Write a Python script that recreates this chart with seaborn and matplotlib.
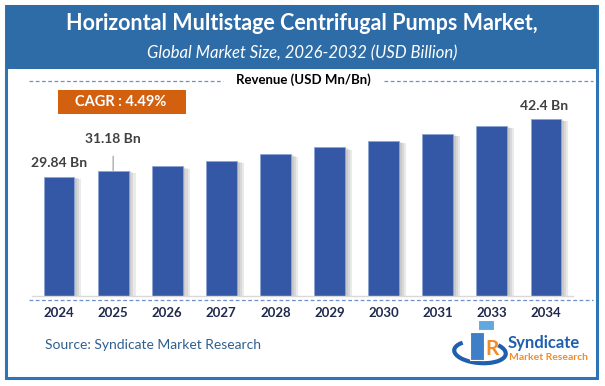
import matplotlib
matplotlib.use("Agg")
import matplotlib.pyplot as plt
import matplotlib.patheffects as pe
from matplotlib.patches import Rectangle, Arc
from matplotlib.lines import Line2D
import pandas as pd
import seaborn as sns

sns.set_style("white")
plt.rcParams['font.family'] = ['Lato', 'DejaVu Sans']

# data
years = ["2024", "2025", "2026", "2027", "2028", "2029", "2030", "2031", "2033", "2034"]
revenue = [29.84, 31.18, 32.1, 33.3, 34.7, 36.2, 37.6, 39.1, 40.9, 42.4]
labels = {"2024": "29.84 Bn", "2025": "31.18 Bn", "2034": "42.4 Bn"}

title = "Horizontal Multistage Centrifugal Pumps Market,"
subtitle = "Global Market Size, 2026-2032 (USD Billion)"
cagr = "CAGR : 4.49%"

df = pd.DataFrame({"year": years, "revenue": revenue})

W, H = 605, 386
fig = plt.figure(figsize=(W / 100, H / 100), dpi=100)

def fx(px):
    return px / W

def fy(py):
    return 1 - py / H

# frame and header band
fig.patches.append(Rectangle((fx(6), fy(378)), fx(591), 372 / H, transform=fig.transFigure,
                             facecolor="white", edgecolor="#2E75B6", linewidth=2.2, zorder=-2))
fig.patches.append(Rectangle((fx(6), fy(69)), fx(591), 64 / H, transform=fig.transFigure,
                             facecolor="#2E6CA7", edgecolor="none", zorder=-1))
fig.text(fx(302), fy(24), title, color="white", fontsize=15.5, fontweight="bold",
         ha="center", va="center")
fig.text(fx(302), fy(53), subtitle, color="white", fontsize=12, style="italic",
         ha="center", va="center")

# revenue caption with dashed rules
fig.text(fx(303), fy(80), "Revenue (USD Mn/Bn)", color="black", fontsize=9.5,
         fontweight="bold", ha="center", va="center")
for x0, x1 in [(29, 223), (384, 593)]:
    fig.add_artist(Line2D([fx(x0), fx(x1)], [fy(81), fy(81)], transform=fig.transFigure,
                          color="#6F8FC8", linewidth=0.9, linestyle=(0, (3, 2))))

# bar chart
y_low = 3.87
ax = fig.add_axes([fx(32), fy(296), fx(541), 186 / H])
ax.set_zorder(2)
sns.barplot(data=df, x="year", y="revenue", color="#3457A6", width=0.57,
            saturation=1, edgecolor="#8EA6D6", linewidth=0.6, ax=ax)
# soft shadow on the right side of each bar
shadow = [pe.SimplePatchShadow(offset=(d, -d / 3), shadow_rgbFace="#808080", alpha=0.16)
          for d in (5, 3.5, 2)]
for bar in ax.patches:
    bar.set_path_effects(shadow + [pe.Normal()])
ax.set_xlim(-0.5, len(years) - 0.5)
ax.set_ylim(y_low, y_low + 186 / 4.594)
ax.set_xlabel("")
ax.set_ylabel("")
ax.set_yticks([])
for s in ["top", "right", "left"]:
    ax.spines[s].set_visible(False)
ax.spines["bottom"].set_color("#D9D9D9")
ax.spines["bottom"].set_linewidth(1)
ax.tick_params(axis="x", length=0, pad=8)
for t in ax.get_xticklabels():
    t.set_fontweight("bold")
    t.set_fontsize(9.5)
    t.set_color("#1F2A4E")
ax.patch.set_alpha(0)

for i, (yr, v) in enumerate(zip(years, revenue)):
    if yr not in labels:
        continue
    if yr == "2025":
        ax.annotate(labels[yr], xy=(i, v), xytext=(0, 23), textcoords="offset points",
                    ha="center", va="center", fontsize=10, fontweight="bold", color="#404040",
                    arrowprops=dict(arrowstyle="-", color="#999999", lw=0.8, shrinkA=6, shrinkB=0))
    else:
        ax.annotate(labels[yr], xy=(i, v), xytext=(-1 if yr == "2034" else 0, 9.5),
                    textcoords="offset points", ha="center", va="center",
                    fontsize=10, fontweight="bold", color="#404040")

# dashed rule under the bars
fig.add_artist(Line2D([fx(29), fx(593)], [fy(300), fy(300)], transform=fig.transFigure,
                      color="#6F8FC8", linewidth=0.9, linestyle=(0, (3, 2))))

# CAGR box
fig.patches.append(Rectangle((fx(58), fy(114)), fx(128), 24 / H, transform=fig.transFigure,
                             facecolor="#D2600F", edgecolor="none", zorder=3))
fig.text(fx(121), fy(102), cagr, color="white", fontsize=10.5, fontweight="bold",
         ha="center", va="center", zorder=4)

# source
fig.text(fx(45), fy(345), "Source: Syndicate Market Research", color="#2F5F8F",
         fontsize=10, ha="left", va="center")

# logo
fig.add_artist(Arc((fx(480), fy(352)), fx(52), 22 / H, angle=-10, theta1=150, theta2=400,
                   transform=fig.transFigure, color="#1F5FAE", linewidth=3))
fig.patches.append(Rectangle((fx(470), fy(360)), fx(14), 28 / H, transform=fig.transFigure,
                             facecolor="#3F7FC8", edgecolor="white", linewidth=0.8, zorder=5))
fig.patches.append(Rectangle((fx(478), fy(330)), fx(16), 10 / H, transform=fig.transFigure,
                             facecolor="#62A8E0", edgecolor="white", linewidth=0.8, zorder=5))
fig.text(fx(492), fy(349), "R", color="#F28C28", fontsize=15, fontweight="bold",
         ha="center", va="center", zorder=6)
fig.text(fx(508), fy(343), "Syndicate", color="#1F5FAE", fontsize=12, fontweight="bold",
         ha="left", va="center")
fig.text(fx(509), fy(358), "Market Research", color="#F28C28", fontsize=7.5, fontweight="bold",
         ha="left", va="center")

fig.savefig("out.png", dpi=100)
